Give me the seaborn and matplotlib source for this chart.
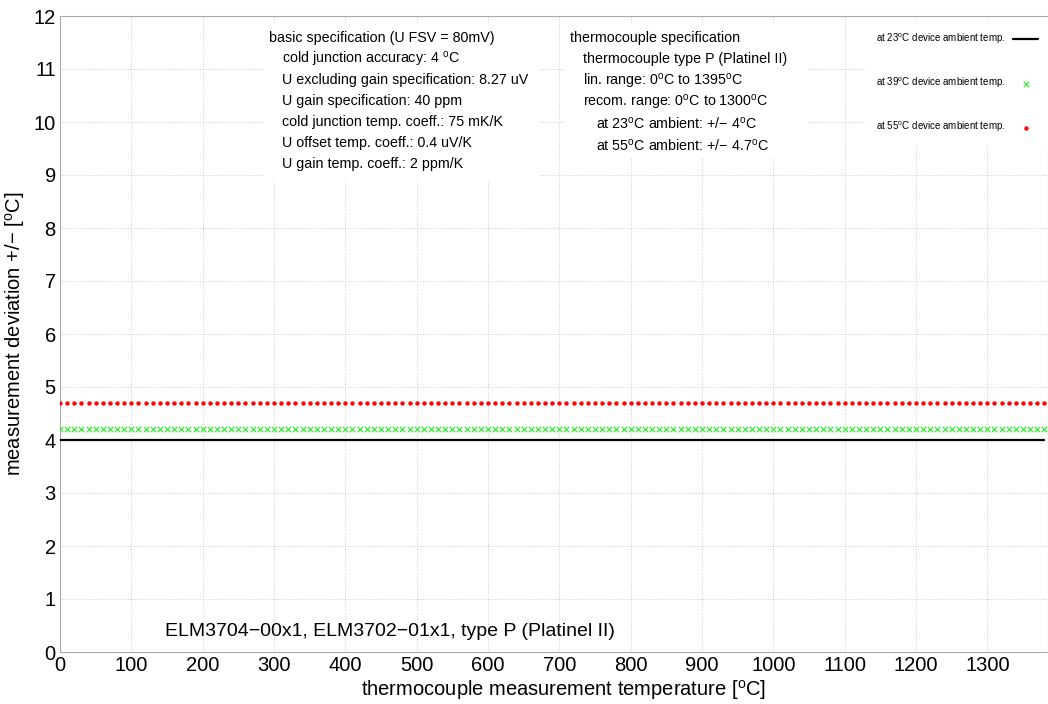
import numpy as np
import pandas as pd
import matplotlib
matplotlib.use("Agg")
import matplotlib.pyplot as plt
import seaborn as sns
from matplotlib.patches import Rectangle

# Datos
temps = list(range(0, 1390, 10))
dev_23 = [4.0] * len(temps)
dev_39 = [4.2] * len(temps)
dev_55 = [4.7] * len(temps)
labels = ["at 23$^{\\rm o}$C device ambient temp.",
          "at 39$^{\\rm o}$C device ambient temp.",
          "at 55$^{\\rm o}$C device ambient temp."]

basic_lines = ["basic specification (U FSV = 80mV)",
               "cold junction accuracy: 4 $^{\\rm o}$C",
               "U excluding gain specification: 8.27 uV",
               "U gain specification: 40 ppm",
               "cold junction temp. coeff.: 75 mK/K",
               "U offset temp. coeff.: 0.4 uV/K",
               "U gain temp. coeff.: 2 ppm/K"]
basic_indent = [0, 1, 1, 1, 1, 1, 1]
tc_lines = ["thermocouple specification",
            "thermocouple type P (Platinel II)",
            "lin. range: 0$^{\\rm o}$C to 1395$^{\\rm o}$C",
            "recom. range: 0$^{\\rm o}$C to 1300$^{\\rm o}$C",
            "at 23$^{\\rm o}$C ambient: +/\u2212 4$^{\\rm o}$C",
            "at 55$^{\\rm o}$C ambient: +/\u2212 4.7$^{\\rm o}$C"]
tc_indent = [0, 1, 1, 1, 2, 2]

df = pd.DataFrame({"T": temps, "d23": dev_23, "d39": dev_39, "d55": dev_55})

sns.set_style("white")
plt.rcParams["font.family"] = ["Liberation Sans", "DejaVu Sans"]
plt.rcParams["mathtext.fontset"] = "custom"
plt.rcParams["mathtext.rm"] = "Liberation Sans"
plt.rcParams["mathtext.it"] = "Liberation Sans"
for k in ["text.color", "axes.labelcolor", "xtick.color", "ytick.color"]:
    plt.rcParams[k] = "black"

fig = plt.figure(figsize=(10.48, 7.04), dpi=100)
W, H = 1048, 704
ax = fig.add_axes([60 / W, 52 / H, 988 / W, 636 / H])

sns.lineplot(data=df, x="T", y="d23", color="black", linewidth=1.6, ax=ax,
             label=labels[0], zorder=3)
sns.scatterplot(data=df, x="T", y="d39", marker="x", color="#22ee22", s=16,
                linewidth=0.8, ax=ax, label=labels[1], zorder=3)
sns.scatterplot(data=df, x="T", y="d55", marker="o", color="red", s=10,
                linewidth=0, ax=ax, label=labels[2], zorder=3)

ax.set_xlim(0, 1385)
ax.set_ylim(0, 12)
ax.set_xticks(range(0, 1400, 100))
ax.set_yticks(range(0, 13))
ax.tick_params(labelsize=14.5, length=0, pad=3)
ax.grid(True, color="#bbbbbb", linestyle=(0, (1, 2)), linewidth=0.6)
for s in ax.spines.values():
    s.set_color("#aaaaaa")
ax.set_xlabel("thermocouple measurement temperature [$^{\\rm o}$C]", fontsize=14.5)
ax.set_ylabel("measurement deviation +/\u2212 [$^{\\rm o}$C]", fontsize=14.5, labelpad=5)

def fx(px):
    return (px - 60) / 988

def fy(py):
    return (652 - py) / 636

ax.xaxis.set_label_coords(fx(564), fy(678))

# text boxes
ax.add_patch(Rectangle((fx(264), fy(180)), fx(540) - fx(264), fy(24) - fy(180),
                       transform=ax.transAxes, facecolor="white", edgecolor="none", zorder=4))
ax.add_patch(Rectangle((fx(564), fy(158)), fx(808) - fx(564), fy(24) - fy(158),
                       transform=ax.transAxes, facecolor="white", edgecolor="none", zorder=4))

for i, (t, ind) in enumerate(zip(basic_lines, basic_indent)):
    ax.text(fx(269 + 13 * ind), fy(38 + 21 * i), t, transform=ax.transAxes,
            fontsize=10.3, va="center", ha="left", zorder=5)
for i, (t, ind) in enumerate(zip(tc_lines, tc_indent)):
    ax.text(fx(570 + 13 * ind), fy(38 + 21.5 * i), t, transform=ax.transAxes,
            fontsize=10.3, va="center", ha="left", zorder=5)

ax.text(fx(165), fy(632), "ELM3704\u221200x1, ELM3702\u221201x1, type P (Platinel II)",
        transform=ax.transAxes, fontsize=14, va="center", ha="left", zorder=5)

leg = ax.legend(loc="upper right", bbox_to_anchor=(1.0, 1.0 - 6 / 636), markerfirst=False,
                fontsize=7, labelspacing=3.05, handlelength=2.6, frameon=True,
                fancybox=False, borderpad=1.0, borderaxespad=0.0)
leg.get_frame().set_edgecolor("white")
leg.get_frame().set_alpha(1)
leg.set_zorder(6)

fig.savefig("out.png", dpi=100)
